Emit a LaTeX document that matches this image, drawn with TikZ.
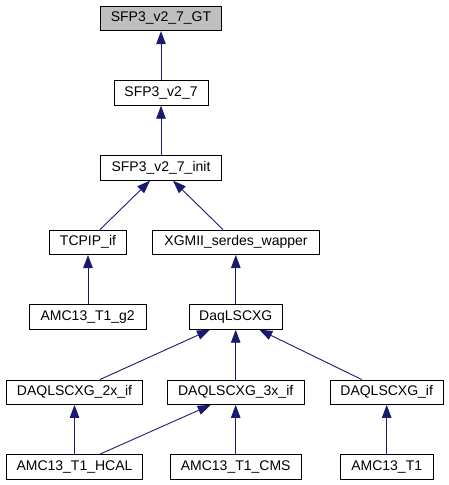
\documentclass[tikz,border=0pt]{standalone}
\usepackage{fontspec}
\setmainfont{Liberation Sans}
\usetikzlibrary{arrows.meta,calc}
\definecolor{edgeblue}{HTML}{191970}
\definecolor{rootgray}{HTML}{BFBFBF}
\begin{document}
\begin{tikzpicture}[x=1pt,y=-1pt,
  cls/.style={draw=black, line width=0.9pt, fill=white, minimum height=24.5pt,
    inner sep=0pt, font=\fontsize{14}{16}\selectfont, anchor=center},
  rootcls/.style={cls, fill=rootgray},
  inh/.style={draw=edgeblue, line width=0.9pt,
    -{Triangle[length=13pt,width=9.5pt,fill=edgeblue]}}]
\useasboundingbox (0,0) rectangle (449,485);

\node[rootcls, minimum width=121pt] (gt)    at (161,18.5)  {SFP3\_v2\_7\_GT};
\node[cls, minimum width=94pt]      (v27)   at (161,93)    {SFP3\_v2\_7};
\node[cls, minimum width=121pt]     (init)  at (161,168)   {SFP3\_v2\_7\_init};
\node[cls, minimum width=77.5pt]    (tcpip) at (88,242.3)  {TCPIP\_if};
\node[cls, minimum width=167pt]     (xgmii) at (236,242.3) {XGMII\_serdes\_wapper};
\node[cls, minimum width=117.5pt]   (g2)    at (87.7,317)  {AMC13\_T1\_g2};
\node[cls, minimum width=93.5pt]    (daq)   at (235.8,317) {DaqLSCXG};
\node[cls, minimum width=136.5pt]   (x2)    at (74.5,392.2)  {DAQLSCXG\_2x\_if};
\node[cls, minimum width=136.5pt]   (x3)    at (235.7,392.2) {DAQLSCXG\_3x\_if};
\node[cls, minimum width=113.5pt]   (xif)   at (386.7,392.2) {DAQLSCXG\_if};
\node[cls, minimum width=136.5pt]   (hcal)  at (74.5,466.8)  {AMC13\_T1\_HCAL};
\node[cls, minimum width=131.5pt]   (cms)   at (235.7,466.8) {AMC13\_T1\_CMS};
\node[cls, minimum width=93.5pt]    (t1)    at (386.7,466.8) {AMC13\_T1};

\draw[inh] (v27.north) -- (gt.south);
\draw[inh] (init.north) -- (v27.south);
\draw[inh] ($(tcpip.north)+(12,0)$) -- ($(init.south)+(-11,0)$);
\draw[inh] ($(xgmii.north)+(-13,0)$) -- ($(init.south)+(12,0)$);
\draw[inh] (g2.north -| tcpip.north) -- (tcpip.south);
\draw[inh] (daq.north) -- (daq.north |- xgmii.south);
\draw[inh] ($(x2.north)+(25.5,0)$) -- ($(daq.south)+(-25.8,0)$);
\draw[inh] (x3.north) -- (x3.north |- daq.south);
\draw[inh] ($(xif.north)+(-25,0)$) -- ($(daq.south)+(23.5,0)$);
\draw[inh] (hcal.north) -- (x2.south);
\draw[inh] ($(hcal.north)+(25.5,0)$) -- ($(x3.south)+(-25,0)$);
\draw[inh] (cms.north) -- (cms.north |- x3.south);
\draw[inh] (t1.north) -- (xif.south);
\end{tikzpicture}
\end{document}
